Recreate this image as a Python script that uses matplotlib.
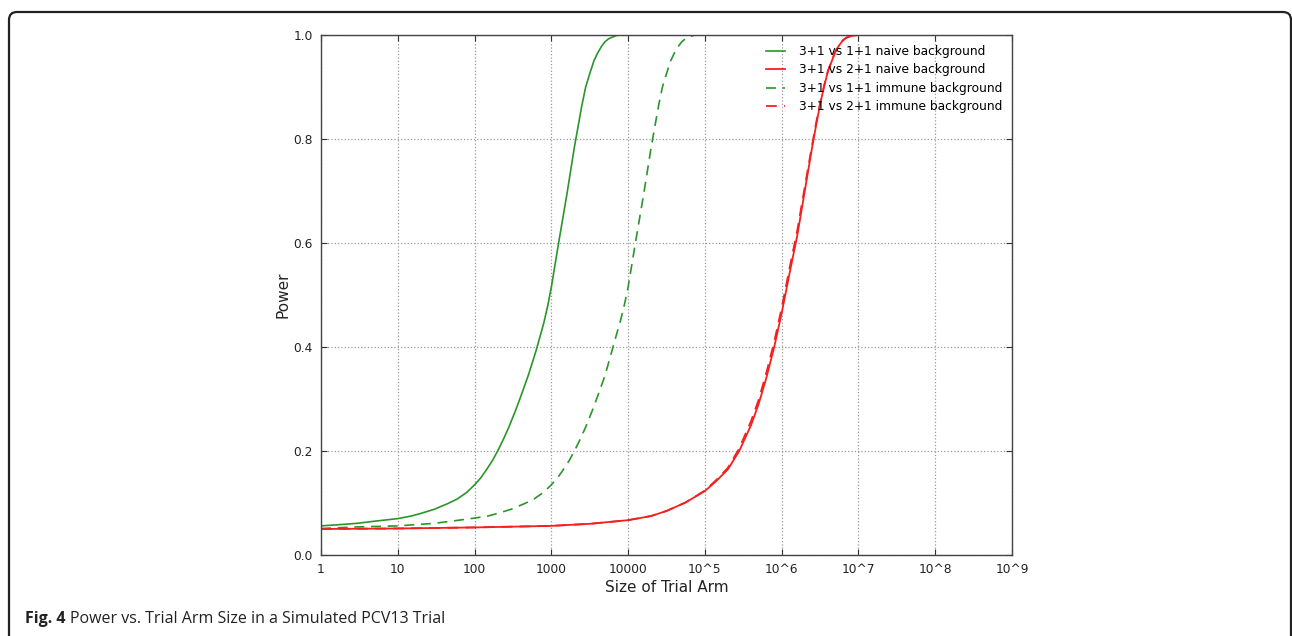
"""
Power vs. trial arm size for the simulated PCV13 schedules.
Saves the figure (with its caption and frame) to out.png.
"""

import matplotlib.pyplot as plt
from matplotlib.patches import FancyBboxPatch


OUTPUT_FILE = "out.png"

# trial arm sizes and simulated power, 3+1 vs 1+1
SIZES_11_NAIVE = [1, 2, 3, 5, 10, 15, 20, 30, 45, 60, 80, 100, 120, 140, 170,
                  200, 240, 280, 340, 400, 500, 630, 700, 800, 900, 1000, 1260,
                  1600, 2000, 2500, 2800, 3200, 3600, 4000, 4500, 5000, 5600,
                  7000, 8000, 10000]
POWER_11_NAIVE = [0.056, 0.059, 0.061, 0.065, 0.070, 0.075, 0.080, 0.088, 0.099,
                  0.108, 0.121, 0.135, 0.148, 0.162, 0.181, 0.200, 0.224, 0.246,
                  0.277, 0.305, 0.345, 0.392, 0.416, 0.447, 0.480, 0.515, 0.605,
                  0.695, 0.785, 0.865, 0.900, 0.928, 0.951, 0.965, 0.978, 0.987,
                  0.993, 0.999, 1.0, 1.0]

SIZES_11_IMMUNE = [1, 3, 10, 20, 30, 50, 100, 150, 200, 300, 450, 600, 800, 1000,
                   1200, 1400, 1700, 2000, 2400, 2800, 3400, 4000, 5000, 6300,
                   7000, 8000, 9000, 10000, 12600, 16000, 20000, 25000, 28000,
                   32000, 36000, 40000, 45000, 50000, 56000, 70000, 80000, 100000]
POWER_11_IMMUNE = [0.051, 0.054, 0.056, 0.059, 0.061, 0.065, 0.071, 0.075, 0.080,
                   0.088, 0.099, 0.108, 0.121, 0.135, 0.148, 0.162, 0.181, 0.200,
                   0.224, 0.246, 0.277, 0.305, 0.345, 0.398, 0.422, 0.452, 0.483,
                   0.515, 0.605, 0.695, 0.785, 0.865, 0.900, 0.928, 0.951, 0.965,
                   0.978, 0.987, 0.993, 0.999, 1.0, 1.0]

# 3+1 vs 2+1
SIZES_21 = [1, 10, 100, 1000, 3200, 1e4, 2e4, 3.2e4, 5.6e4, 1e5, 1.4e5, 2e5,
            2.8e5, 4e5, 5e5, 6.3e5, 8e5, 1e6, 1.26e6, 1.6e6, 2e6, 2.5e6, 2.8e6,
            3.2e6, 3.6e6, 4e6, 4.5e6, 5e6, 5.6e6, 6.3e6, 7e6, 8e6, 1e7]
POWER_21_NAIVE = [0.050, 0.051, 0.053, 0.056, 0.060, 0.067, 0.075, 0.085, 0.101,
                  0.123, 0.142, 0.165, 0.200, 0.250, 0.290, 0.340, 0.400, 0.465,
                  0.540, 0.615, 0.700, 0.785, 0.825, 0.870, 0.903, 0.930, 0.950,
                  0.968, 0.980, 0.990, 0.995, 0.998, 1.0]
POWER_21_IMMUNE = [0.050, 0.051, 0.053, 0.056, 0.060, 0.067, 0.075, 0.085, 0.101,
                   0.124, 0.144, 0.168, 0.205, 0.258, 0.298, 0.350, 0.410, 0.475,
                   0.550, 0.625, 0.708, 0.790, 0.830, 0.872, 0.905, 0.931, 0.951,
                   0.968, 0.980, 0.990, 0.995, 0.998, 1.0]

X_TICKS = [1, 10, 100, 1000, 10000, 1e5, 1e6, 1e7, 1e8, 1e9]
X_TICK_LABELS = ["1", "10", "100", "1000", "10000",
                 "10^5", "10^6", "10^7", "10^8", "10^9"]
Y_TICKS = [0.0, 0.2, 0.4, 0.6, 0.8, 1.0]

GREEN = "#2a962a"
RED = "#f42020"
W, H = 1292, 636


def draw_frame(fig) -> None:
    """Rounded border around the whole figure."""
    box = FancyBboxPatch((9, -20), 1282, 636 - 12 + 20,
                         boxstyle="round,pad=0,rounding_size=8",
                         transform=None, fill=False,
                         edgecolor="#222222", linewidth=1.6)
    fig.patches.append(box)


def draw_caption(fig) -> None:
    """Bold figure number followed by the caption text."""
    fig.canvas.draw()
    renderer = fig.canvas.get_renderer()
    y = 1 - 623 / H
    head = fig.text(25 / W, y, "Fig. 4", fontsize=11.5, fontweight="bold",
                    family="Open Sans", color="#222222", va="baseline")
    ext = head.get_window_extent(renderer)
    fig.text((ext.x1 + 5) / W, y,
             "Power vs. Trial Arm Size in a Simulated PCV13 Trial",
             fontsize=11.5, family="Open Sans", color="#222222", va="baseline")


def main() -> None:
    fig = plt.figure(figsize=(W / 100, H / 100), dpi=100)
    ax = fig.add_axes([321 / W, 1 - 555 / H, (1012 - 321) / W, (555 - 35) / H])

    dash = (6, 4)
    ax.plot(SIZES_11_NAIVE, POWER_11_NAIVE, color=GREEN, lw=1.2,
            label="3+1 vs 1+1 naive background")
    ax.plot(SIZES_21, POWER_21_NAIVE, color=RED, lw=1.3,
            label="3+1 vs 2+1 naive background")
    ax.plot(SIZES_11_IMMUNE, POWER_11_IMMUNE, color=GREEN, lw=1.2,
            linestyle="--", dashes=dash, label="3+1 vs 1+1 immune background")
    ax.plot(SIZES_21, POWER_21_IMMUNE, color=RED, lw=1.3,
            linestyle="--", dashes=dash, label="3+1 vs 2+1 immune background")

    ax.set_xscale("log")
    ax.set_xlim(1, 1e9)
    ax.set_ylim(0, 1.0)
    ax.set_xticks(X_TICKS)
    ax.set_xticklabels(X_TICK_LABELS)
    ax.minorticks_off()
    ax.set_yticks(Y_TICKS)
    ax.set_yticklabels([f"{v:.1f}" for v in Y_TICKS])
    ax.tick_params(direction="in", top=True, right=True, length=4,
                   labelsize=8.8, colors="#333333", pad=6)
    ax.tick_params(axis="x", labelcolor="#222222")
    ax.tick_params(axis="y", labelcolor="#222222")

    ax.grid(True, linestyle=":", color="#999999", linewidth=0.9)
    for spine in ax.spines.values():
        spine.set_color("#444444")
        spine.set_linewidth(1.0)

    ax.set_xlabel("Size of Trial Arm", fontsize=11, color="#222222", labelpad=3)
    ax.set_ylabel("Power", fontsize=11, color="#222222", labelpad=2)

    ax.legend(loc="upper right", frameon=False, fontsize=8.8,
              handlelength=1.6, handletextpad=1.1, labelspacing=0.45,
              borderaxespad=0.4, bbox_to_anchor=(1.0, 1.0))

    draw_frame(fig)
    draw_caption(fig)

    fig.savefig(OUTPUT_FILE, dpi=100)
    plt.close(fig)


if __name__ == "__main__":
    main()
